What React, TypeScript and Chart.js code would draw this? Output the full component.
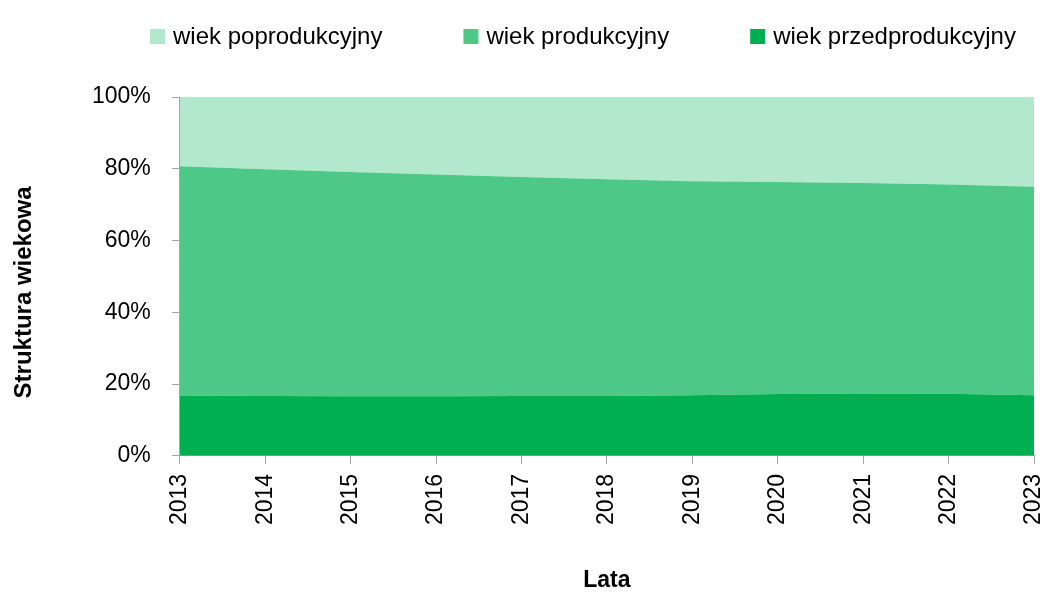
import { useEffect, useRef } from 'react';
import { Chart, registerables } from 'chart.js';

Chart.register(...registerables);

const years = ['2013', '2014', '2015', '2016', '2017', '2018', '2019', '2020', '2021', '2022', '2023'];
const preProductive = [16.8, 16.7, 16.6, 16.6, 16.7, 16.7, 16.9, 17.2, 17.4, 17.3, 16.9];
const productive = [63.9, 63.2, 62.5, 61.8, 61.0, 60.4, 59.6, 59.1, 58.6, 58.3, 58.1];
const postProductive = [19.3, 20.1, 20.9, 21.6, 22.3, 22.9, 23.5, 23.7, 24.0, 24.4, 25.0];
const yTickValues = [0, 20, 40, 60, 80, 100];
const seriesNames = ['wiek przedprodukcyjny', 'wiek produkcyjny', 'wiek poprodukcyjny'];
const seriesColors = ['#00AF50', '#4DC886', '#B2E8CB'];
const yTitle = 'Struktura wiekowa';
const xTitle = 'Lata';

const FONT = '"Liberation Sans", Arial, sans-serif';
const AXIS_COLOR = '#A6A6A6';

const legendPlugin = {
  id: 'topLegend',
  afterDraw(chart: any) {
    const ctx = chart.ctx as CanvasRenderingContext2D;
    const items = chart.data.datasets.map((d: any) => ({ label: d.label, color: d.backgroundColor })).reverse();
    ctx.save();
    ctx.font = `24px ${FONT}`;
    ctx.textBaseline = 'alphabetic';
    ctx.textAlign = 'left';
    const box = 15;
    const textGap = 8;
    const itemGap = 81;
    let x = 150;
    items.forEach((it: any) => {
      ctx.fillStyle = it.color;
      ctx.fillRect(x, 29, box, box);
      ctx.fillStyle = '#000';
      ctx.fillText(it.label, x + box + textGap, 44);
      x += box + textGap + ctx.measureText(it.label).width + itemGap;
    });
    ctx.restore();
  },
};

const yTitlePlugin = {
  id: 'yTitle',
  afterDraw(chart: any) {
    const ctx = chart.ctx as CanvasRenderingContext2D;
    const area = chart.chartArea;
    ctx.save();
    ctx.font = `bold 24px ${FONT}`;
    ctx.fillStyle = '#000';
    ctx.textAlign = 'center';
    ctx.textBaseline = 'middle';
    ctx.translate(24, (area.top + area.bottom) / 2 + 16);
    ctx.rotate(-Math.PI / 2);
    ctx.fillText(yTitle, 0, 0);
    ctx.restore();
  },
};

export default function App() {
  const canvasRef = useRef<HTMLCanvasElement | null>(null);

  useEffect(() => {
    if (!canvasRef.current) return;
    const values = [preProductive, productive, postProductive];
    const chart = new Chart(canvasRef.current, {
      type: 'line',
      data: {
        labels: years,
        datasets: values.map((v, i) => ({
          label: seriesNames[i],
          data: v,
          backgroundColor: seriesColors[i],
          borderColor: seriesColors[i],
          borderWidth: 0,
          pointRadius: 0,
          pointHoverRadius: 0,
          tension: 0,
          fill: i === 0 ? 'origin' : '-1',
        })),
      },
      options: {
        animation: false,
        responsive: true,
        maintainAspectRatio: false,
        layout: { padding: { top: 97, right: 0, left: 71, bottom: 0 } },
        plugins: {
          legend: { display: false },
          tooltip: { enabled: false },
        },
        scales: {
          x: {
            offset: false,
            afterFit: (scale: any) => {
              scale.paddingRight = 14;
            },
            grid: { drawOnChartArea: false, drawTicks: true, tickLength: 8, color: AXIS_COLOR },
            border: { display: true, color: AXIS_COLOR, width: 1 },
            ticks: {
              minRotation: 90,
              maxRotation: 90,
              autoSkip: false,
              padding: 10,
              color: '#000',
              font: { family: FONT, size: 23 },
            },
            title: {
              display: true,
              text: xTitle,
              color: '#000',
              font: { family: FONT, size: 23, weight: 'bold', lineHeight: 1 },
              padding: { top: 34, bottom: 0 },
            },
          },
          y: {
            stacked: true,
            min: 0,
            max: 100,
            afterBuildTicks: (axis: any) => {
              axis.ticks = yTickValues.map((v) => ({ value: v }));
            },
            grid: { drawOnChartArea: false, drawTicks: true, tickLength: 8, color: AXIS_COLOR },
            border: { display: true, color: AXIS_COLOR, width: 1 },
            ticks: {
              padding: 21,
              color: '#000',
              font: { family: FONT, size: 23 },
              callback: (v: any) => `${v}%`,
            },
            title: { display: false },
          },
        },
      },
      plugins: [legendPlugin, yTitlePlugin],
    });
    return () => chart.destroy();
  }, []);

  return (
    <div style={{ position: 'absolute', left: 0, top: 0, width: 1048, height: 592, background: '#fff' }}>
      <canvas ref={canvasRef} />
    </div>
  );
}
